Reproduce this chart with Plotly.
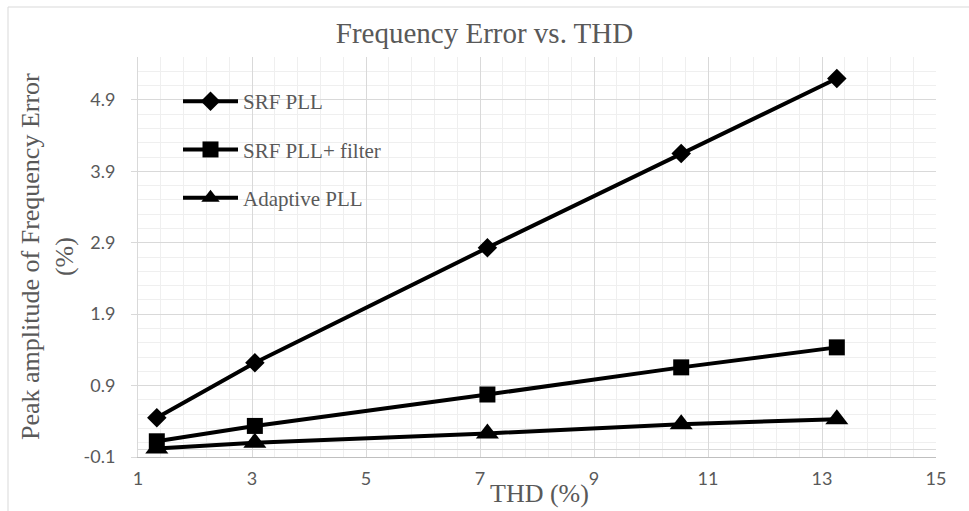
import plotly.graph_objects as go

thd = [1.33, 3.05, 7.13, 10.53, 13.26]
srf_pll = [0.45, 1.22, 2.83, 4.15, 5.20]
srf_pll_filter = [0.12, 0.335, 0.775, 1.155, 1.435]
adaptive_pll = [0.02, 0.10, 0.23, 0.36, 0.43]

series_names = ["SRF PLL", "SRF PLL+ filter", "Adaptive PLL"]
series_values = [srf_pll, srf_pll_filter, adaptive_pll]
series_symbols = ["diamond", "square", "triangle-up"]
series_sizes = [15, 16, 20]

x_tickvals = [1, 3, 5, 7, 9, 11, 13, 15]
y_tickvals = [-0.1, 0.9, 1.9, 2.9, 3.9, 4.9]

GRAY_TEXT = "#595959"
SERIF = "Liberation Serif"
SANS = "Lato"

fig = go.Figure()
for i, (name, vals, sym, sz) in enumerate(zip(series_names, series_values, series_symbols, series_sizes)):
    fig.add_trace(go.Scatter(
        x=thd, y=vals, name=name, mode="lines+markers",
        legendgroup=f"g{i}",
        line=dict(color="black", width=4),
        marker=dict(symbol=sym, size=sz, color="black"),
    ))

fig.update_layout(
    width=969, height=511,
    margin=dict(l=138, r=33, t=57, b=54),
    paper_bgcolor="white", plot_bgcolor="white",
    font=dict(family=SERIF, color=GRAY_TEXT),
    title=dict(text="Frequency Error vs. THD", x=0.5, xref="container", xanchor="center",
               y=1 - 33 / 511, yref="container", yanchor="middle",
               font=dict(family=SERIF, size=29, color=GRAY_TEXT)),
    showlegend=True,
    legend=dict(x=(178 - 138) / 798, xanchor="left", y=0.94, yanchor="top",
                bgcolor="rgba(0,0,0,0)", traceorder="grouped", tracegroupgap=18,
                itemwidth=55,
                font=dict(family=SERIF, size=21, color=GRAY_TEXT)),
    xaxis=dict(range=[1, 15], tickvals=x_tickvals, ticktext=[str(v) for v in x_tickvals],
               showgrid=True, gridcolor="#d9d9d9", gridwidth=1,
               minor=dict(dtick=0.4, tick0=1, showgrid=True, gridcolor="#efefef", gridwidth=1),
               showline=True, linecolor="#bfbfbf", linewidth=1,
               ticks="", ticklabelstandoff=5, zeroline=False,
               tickfont=dict(family=SANS, size=18, color=GRAY_TEXT)),
    yaxis=dict(range=[-0.1, 5.5], tickvals=y_tickvals, ticktext=["-0.1", "0.9", "1.9", "2.9", "3.9", "4.9"],
               showgrid=True, gridcolor="#d9d9d9", gridwidth=1,
               minor=dict(dtick=0.2, tick0=-0.1, showgrid=True, gridcolor="#efefef", gridwidth=1),
               zeroline=True, zerolinecolor="#d9d9d9", zerolinewidth=1,
               showline=True, linecolor="#d9d9d9", linewidth=1,
               ticks="outside", ticklen=6, tickcolor="#d9d9d9", ticklabelstandoff=12,
               tickfont=dict(family=SANS, size=18, color=GRAY_TEXT)),
    shapes=[dict(type="rect", xref="paper", yref="paper",
                 x0=(8 - 138) / 798, x1=1.2, y0=-0.3, y1=(457 - 7) / 400,
                 line=dict(color="#d9d9d9", width=1), fillcolor="rgba(0,0,0,0)", layer="below")],
    annotations=[
        dict(text="Peak amplitude of Frequency Error<br>(%)", xref="paper", yref="paper",
             x=(47 - 138) / 798, y=0.5, xanchor="center", yanchor="middle", textangle=-90,
             showarrow=False, font=dict(family=SERIF, size=26, color=GRAY_TEXT)),
        dict(text="THD (%)", xref="paper", yref="paper",
             x=(539 - 138) / 798, y=(457 - 493) / 400, xanchor="center", yanchor="middle",
             showarrow=False, font=dict(family=SERIF, size=26, color=GRAY_TEXT)),
    ],
)

fig.write_html("out.html")
